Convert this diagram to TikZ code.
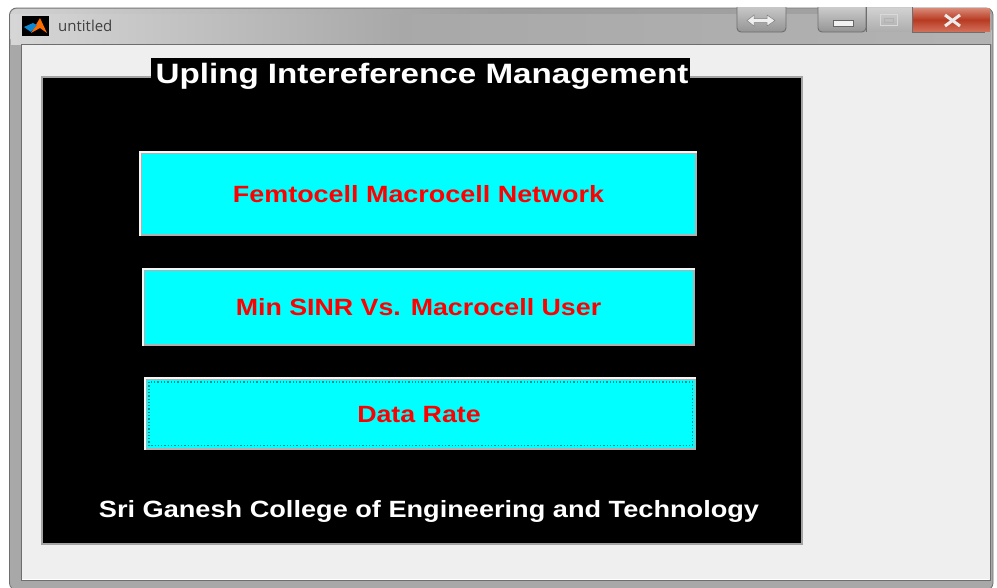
\documentclass[tikz,border=0pt]{standalone}
\usepackage{fontspec}
\setmainfont{Liberation Sans}
\newfontfamily\uifont{Open Sans}
\definecolor{clientbg}{HTML}{EFEFEF}
\definecolor{framegray}{HTML}{A8A8A8}
\definecolor{edgegray}{HTML}{6E6E6E}
\definecolor{btncyan}{HTML}{00FFFF}
\definecolor{panelborder}{HTML}{A4A4A4}
\definecolor{focusdots}{HTML}{0A8F8F}
\definecolor{closetop}{HTML}{D98A78}
\definecolor{closemid}{HTML}{B83A22}
\definecolor{closebot}{HTML}{D2705A}
\definecolor{btnedge}{HTML}{B0B0B0}
\tikzset{
  x=1pt,y=-1pt,
  gui/.style={draw=btnedge,line width=1.8pt,fill=btncyan,inner sep=0pt,anchor=north west},
  btnlabel/.style={font=\bfseries\fontsize{23.5}{25}\selectfont,text=red,inner sep=0pt},
  whitelabel/.style={font=\bfseries\fontsize{23.5}{25}\selectfont,text=white,inner sep=0pt},
  ctrl/.style={draw=edgegray,line width=0.9pt},
}
\begin{document}
\begin{tikzpicture}
\useasboundingbox (0,0) rectangle (997,587);
\fill[white] (0,0) rectangle (997,587);
% window frame
\fill[framegray,rounded corners=7pt,draw=edgegray,line width=0.8pt] (9.5,8) rectangle (993,590);
\shade[left color=black!18,right color=black!36,middle color=black!38,rounded corners=6pt] (10.5,9) rectangle (992,44);
\fill[black!25] (10.5,30) rectangle (992,44);
\shade[left color=black!16,right color=black!34] (11,14) rectangle (400,44);
\shade[left color=black!34,right color=black!30] (400,14) rectangle (991,44);
% client area
\draw[draw=edgegray,line width=1pt,fill=clientbg] (21,44.5) rectangle (990,580);
\draw[white,line width=0.8pt] (22,579) -- (989,579);
% app icon
\fill[black] (21.5,16) rectangle (49,36);
\fill[orange!85!red] (31,33) -- (40,18) -- (47,33) -- (40,28) -- cycle;
\fill[cyan!70!blue] (24,27) -- (33,23) -- (37,25) -- (31,32) -- cycle;
\node[font=\uifont\fontsize{15}{17}\selectfont,text=black!75,inner sep=0pt,anchor=west] (wtitle) at (58,26) {untitled};
% dock button
\draw[ctrl,rounded corners=4pt,top color=black!22,bottom color=black!42] (737,7) -- (737,32) -- (786,32) -- (786,7);
\draw[black!50,fill=clientbg,line width=0.5pt] (747,20.5) -- (754,15) -- (754,18.5) -- (767,18.5) -- (767,15) -- (775,20.5) -- (767,26) -- (767,22.5) -- (754,22.5) -- (754,26) -- cycle;
% min max close
\draw[ctrl,rounded corners=4pt,top color=black!20,bottom color=black!42] (818,7) -- (818,32) -- (866,32) -- (866,7);
\fill[black!5] (833,20.5) rectangle (853,26);
\draw[black!60,line width=0.5pt] (833,20.5) rectangle (853,26);
\shade[top color=black!18,bottom color=black!32] (867,8) rectangle (912,31.5);
\draw[black!15,line width=1pt] (880.5,14.5) rectangle (897,25);
\draw[black!30,line width=1pt] (884,18) rectangle (893.5,22);
\shade[top color=closetop,bottom color=closebot,middle color=closemid] (912,8) rectangle (990,31.5);
\draw[edgegray,line width=0.8pt] (866.5,7) -- (866.5,32) (912,7) -- (912,32) (912,32) -- (985,32);
\draw[black!8,line width=3pt] (945,15) -- (960,26) (960,15) -- (945,26);
% panel
\draw[panelborder,line width=2pt,fill=black] (42,76.5) rectangle (802,544);
\fill[clientbg] (41,58) rectangle (151,75);
\fill[clientbg] (690,58) rectangle (803,75);
\node[fill=black,minimum width=539pt,minimum height=29pt,inner sep=0pt,anchor=north west] (titlebg) at (151,58) {};
\node[whitelabel] (ttl) at (422,76.5) {\fontsize{28}{30}\selectfont\scalebox{1.185}[1]{Upling Intereference Management}};
% buttons
\node[gui,minimum width=555pt,minimum height=82pt] (b1) at (140,152) {};
\node[gui,minimum width=550pt,minimum height=75pt] (b2) at (143,269) {};
\node[gui,minimum width=549.5pt,minimum height=70pt] (b3) at (145,378) {};
\foreach \n in {b1,b2,b3}{
  \draw[black!4,line width=1.8pt] (\n.south west) -- (\n.north west) -- (\n.north east);
}
\draw[focusdots,line width=1.3pt,dotted] ([shift={(4,4)}]b3.north west) rectangle ([shift={(-4,-4)}]b3.south east);
\node[btnlabel] (l1) at (418.5,194.5) {\scalebox{1.146}[1]{Femtocell Macrocell Network}};
\node[btnlabel] (l2) at (418.5,307.5) {\scalebox{1.139}[1]{Min SINR Vs. Macrocell User}};
\node[btnlabel] (l3) at (419,414.5) {\scalebox{1.139}[1]{Data Rate}};
\node[whitelabel] (college) at (429,511) {\scalebox{1.155}[1]{Sri Ganesh College of Engineering and Technology}};
\end{tikzpicture}
\end{document}
